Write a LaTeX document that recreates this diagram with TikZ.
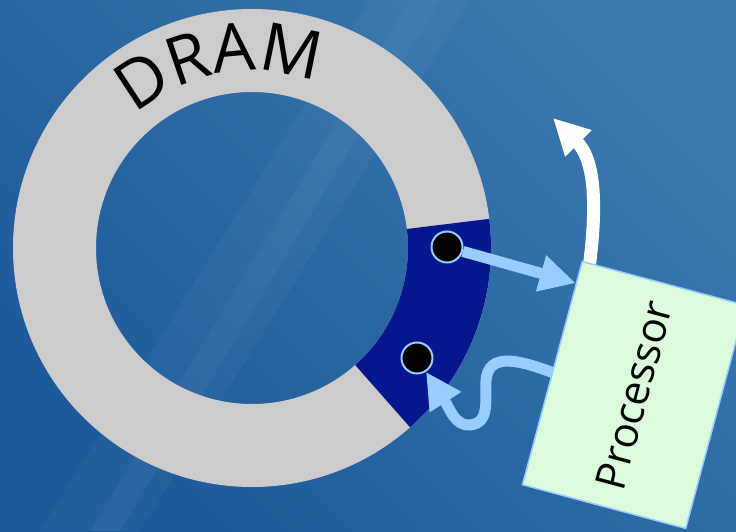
\documentclass[tikz,border=0pt]{standalone}
\usepackage{fontspec}
\setmainfont{Open Sans}
\usetikzlibrary{arrows.meta,calc,decorations.text}
\definecolor{bgdark}{HTML}{1D5A9A}
\definecolor{bglight}{HTML}{3A78AD}
\definecolor{ringgray}{HTML}{CCCCCC}
\definecolor{segblue}{HTML}{04178F}
\definecolor{lblue}{HTML}{99CCFF}
\definecolor{procgreen}{HTML}{DCFADC}
\pgfdeclarelayer{bg}
\pgfdeclarelayer{mid}
\pgfsetlayers{bg,mid,main}
\newcommand\dramfont{\fontsize{67}{67}\selectfont}
\begin{document}
\begin{tikzpicture}[x=1pt,y=1pt,
  memdot/.style={circle,fill=black,draw=lblue,line width=2pt,minimum size=31pt,inner sep=0pt},
  procbox/.style={rectangle,fill=procgreen,draw=lblue,line width=1.5pt,minimum width=231pt,minimum height=169pt,inner sep=0pt,rotate=75,font=\fontsize{42}{42}\selectfont},
  blarrow/.style={draw=lblue,line width=11pt,-{Triangle[length=36pt,width=35pt]}},
  wharrow/.style={draw=white,line width=13pt,-{Triangle[length=36pt,width=35pt]}},
  streak/.style={fill=white,fill opacity=0.035}
]
\useasboundingbox (0,0) rectangle (736,531);
\begin{pgfonlayer}{bg}
\shade[top color=bglight,bottom color=bgdark,shading angle=-45] (0,0) rectangle (736,531);
\fill[streak] (40,0) -- (140,0) -- (470,531) -- (370,531) -- cycle;
\fill[streak] (90,0) -- (120,0) -- (440,531) -- (410,531) -- cycle;
\fill[ringgray,even odd rule] (252,283) circle[radius=239pt] (252,283) circle[radius=156pt];
\fill[segblue] ($(252,283)+(-48.6:239pt)$) arc[start angle=-48.6,end angle=7,radius=239pt]
  -- ($(252,283)+(7:156pt)$) arc[start angle=7,end angle=-48.6,radius=156pt] -- cycle;
\path[decorate,decoration={text along path,text={|\dramfont|DRAM},text align=center}]
  ($(252,283)+(160:177pt)$) arc[start angle=160,end angle=40,radius=177pt];
\end{pgfonlayer}

\node[memdot] (d1) at (447,284) {};
\node[memdot] (d2) at (417,173) {};
\node[procbox] (proc) at (634,136) {Processor};

\begin{pgfonlayer}{mid}
\draw[blarrow] (d1) -- ($(proc.north west)!0.9!(proc.north east)$);
\coordinate (p2) at ($(proc.center)+(165:78pt)$);
\draw[blarrow] (p2) .. controls (520,171) and (488,180) .. (486,150)
  .. controls (485,130) and (490,108) .. (470,106)
  .. controls (455,105) and (450,122) .. (d2);
\coordinate (w0) at ($(proc.center)+(75:109pt)+(165:76pt)$);
\coordinate (wtip) at (553,413);
\draw[wharrow] (w0) .. controls (598,330) and (594,372) .. (wtip);
\end{pgfonlayer}
\end{tikzpicture}
\end{document}
